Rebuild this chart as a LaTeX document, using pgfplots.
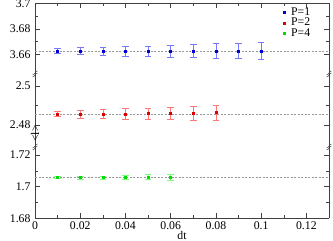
\documentclass[border=0pt]{standalone}
\usepackage{fontspec}
\setmainfont{Liberation Serif}
\usepackage{pgfplots}
\pgfplotsset{compat=1.18}
\definecolor{cB}{RGB}{0,0,210}
\definecolor{cR}{RGB}{220,0,0}
\definecolor{cG}{RGB}{0,220,0}
\definecolor{eB}{RGB}{120,120,255}
\definecolor{eR}{RGB}{255,120,120}
\definecolor{eG}{RGB}{120,255,120}
\newcommand{\fs}{\fontsize{11.8}{14}\selectfont}
\pgfplotsset{
  panel/.style={
    scale only axis, width=294bp, xmin=0, xmax=0.13,
    axis y line*=box,
    xtick={0,0.02,0.04,0.06,0.08,0.1,0.12},
    minor x tick num=1, minor y tick num=1,
    tick align=inside, major tick length=5bp, minor tick length=3bp,
    every tick/.style={black!75, line width=0.5bp},
    axis line style={black!75, line width=0.6bp},
    ticklabel style={font=\fs},
    label style={font=\fs},
    clip=false,
    yticklabel style={xshift=-1bp},
  },
  ebars/.style n args={2}{only marks, mark=square*, mark size=1bp,
    color=#1, mark options={fill=#1, draw=#1},
    error bars/.cd, y dir=both, y explicit,
    error bar style={color=#2, line width=0.55bp},
    error mark options={color=#2, mark size=3.3bp, line width=0.55bp, rotate=90},
    /pgfplots/.cd},
  refline/.style={gray!80, line width=0.6bp, dash pattern=on 2bp off 1.5bp, forget plot},
}
\newcommand{\brk}[1]{\draw[black!75, line width=0.5bp, shift={#1}] (-2.5bp,-3bp) .. controls (0bp,-3bp) and (0bp,1bp) .. (2.5bp,1bp);
  \draw[black!75, line width=0.5bp, shift={#1}] (-2.5bp,-1bp) .. controls (0bp,-1bp) and (0bp,3bp) .. (2.5bp,3bp);}
\begin{document}
\begin{tikzpicture}
% bottom panel
\begin{axis}[panel, at={(0,0)}, anchor=south west, height=71.3bp,
  axis x line*=bottom, ymin=1.68, ymax=1.725, ytick={1.68,1.7,1.72},
  yticklabels={1.68,1.7,1.72},
  xticklabels={0,0.02,0.04,0.06,0.08,0.1,0.12},
  xlabel={dt}, xlabel style={yshift=5bp}]
\addplot[refline] coordinates {(0,1.7057) (0.13,1.7057)};
\addplot[ebars={cG}{eG}] coordinates {
 (0.01,1.7057) +- (0,0.0006)
 (0.02,1.7057) +- (0,0.0008)
 (0.03,1.7058) +- (0,0.0010)
 (0.04,1.7058) +- (0,0.0012)
 (0.05,1.7061) +- (0,0.0016)
 (0.06,1.7061) +- (0,0.0018)
};
\end{axis}
% middle panel
\begin{axis}[panel, at={(0,71.3bp)}, anchor=south west, height=73bp,
  axis x line=none, ymin=2.4687, ymax=2.5062, ytick={2.48,2.5},
  yticklabels={2.48,2.5}]
\addplot[refline] coordinates {(0,2.4856) (0.13,2.4856)};
\addplot[ebars={cR}{eR}] coordinates {
 (0.01,2.4856) +- (0,0.0013)
 (0.02,2.4856) +- (0,0.0019)
 (0.03,2.4857) +- (0,0.0025)
 (0.04,2.4857) +- (0,0.0027)
 (0.05,2.4859) +- (0,0.0029)
 (0.06,2.4860) +- (0,0.0032)
 (0.07,2.4861) +- (0,0.0035)
 (0.08,2.4864) +- (0,0.0038)
};
\node[rotate=90, font=\fs] at (rel axis cs:0,0.5) [xshift=-23bp] {<l>};
\brk{(rel axis cs:0,1)}
\brk{(rel axis cs:1,1)}
\brk{(rel axis cs:0,0)}
\brk{(rel axis cs:1,0)}
\end{axis}
% top panel
\begin{axis}[panel, at={(0,144.3bp)}, anchor=south west, height=70.5bp,
  axis x line*=top, xticklabels={}, ymin=3.6445, ymax=3.7, ytick={3.66,3.68,3.7},
  yticklabels={3.66,3.68,3.7},
  legend style={draw=none, fill=none, font=\fs, at={(0.84,0.99)}, anchor=north west,
    row sep=-2.5bp, inner sep=1bp},
  legend cell align=left,
  legend image code/.code={\draw[#1] plot coordinates {(0bp,0bp)};},
  /tikz/every odd column/.append style={column sep=4bp}]
\addplot[refline] coordinates {(0,3.6626) (0.13,3.6626)};
\addplot[ebars={cB}{eB}] coordinates {
 (0.01,3.6626) +- (0,0.0020)
 (0.02,3.6626) +- (0,0.0029)
 (0.03,3.6626) +- (0,0.0033)
 (0.04,3.6625) +- (0,0.0037)
 (0.05,3.6625) +- (0,0.0042)
 (0.06,3.6626) +- (0,0.0049)
 (0.07,3.6626) +- (0,0.0053)
 (0.08,3.6626) +- (0,0.0057)
 (0.09,3.6627) +- (0,0.0061)
 (0.10,3.6628) +- (0,0.0065)
};
\addlegendentry{P=1}
\addlegendimage{only marks, mark=square*, mark size=1bp, color=cR}
\addlegendentry{P=2}
\addlegendimage{only marks, mark=square*, mark size=1bp, color=cG}
\addlegendentry{P=4}
\end{axis}
\pgfresetboundingbox
\path[use as bounding box] (-35bp,-22.7bp) rectangle (298bp,218.3bp);
\end{tikzpicture}
\end{document}
